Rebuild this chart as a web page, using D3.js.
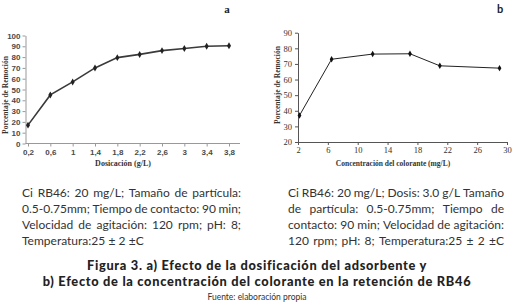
<!DOCTYPE html>
<html>
<head>
<meta charset="utf-8">
<script src="https://d3js.org/d3.v7.min.js"></script>
<style>
  body { margin: 0; background: #fff; }
  svg { display: block; }
</style>
</head>
<body>
<svg width="515" height="306"></svg>
<script>

// data
var doseLabels = ["0,2", "0,6", "1", "1,4", "1,8", "2,2", "2,6", "3", "3,4", "3,8"];
var doseRemoval = [17, 45, 57, 70, 79.5, 82.5, 86, 88, 90, 90.5];
var doseYTicks = [0, 10, 20, 30, 40, 50, 60, 70, 80, 90, 100];

var concValues = [2.2, 6.5, 12, 17, 21, 29];
var concRemoval = [37, 73, 76.3, 76.5, 68.8, 67.3];
var concXTicks = [2, 6, 10, 14, 18, 22, 26, 30];
var concYTicks = [20, 30, 40, 50, 60, 70, 80, 90];

var noteA = [
  "Ci RB46: 20 mg/L; Tamaño de partícula:",
  "0.5-0.75mm; Tiempo de contacto: 90 min;",
  "Velocidad de agitación: 120 rpm; pH: 8;",
  "Temperatura:25 ± 2 ±C"
];
var noteB = [
  "Ci RB46: 20 mg/L; Dosis: 3.0 g/L Tamaño",
  "de partícula: 0.5-0.75mm; Tiempo de",
  "contacto: 90 min; Velocidad de agitación:",
  "120 rpm; pH: 8; Temperatura:25 ± 2 ±C"
];
var caption = [
  "Figura 3. a) Efecto de la dosificación del adsorbente y",
  "b) Efecto de la concentración del colorante en la retención de RB46"
];
var source = "Fuente: elaboración propia";

var svg = d3.select("svg");

// ---------- chart a ----------
var xa = d3.scalePoint().domain(doseLabels).range([28, 229]);
var ya = d3.scaleLinear().domain([0, 100]).range([143.5, 35.5]);

var ga = svg.append("g");

var axA = ga.append("g")
    .attr("transform", "translate(0,143.5)")
    .call(d3.axisBottom(xa).tickSize(3).tickSizeOuter(0).tickPadding(3));
axA.select(".domain").attr("d", "M25.5,0H240");
axA.selectAll("line").attr("stroke", "#999");
axA.select(".domain").attr("stroke", "#999");
axA.selectAll("text")
    .attr("font-family", "Liberation Sans, Arial, sans-serif")
    .attr("font-weight", "bold")
    .attr("font-size", 8)
    .attr("fill", "#4a4a4a");

var ayA = ga.append("g")
    .attr("transform", "translate(25.5,0)")
    .call(d3.axisLeft(ya).tickValues(doseYTicks).tickSize(3).tickSizeOuter(0).tickPadding(2));
ayA.selectAll("line, .domain").attr("stroke", "#999");
ayA.selectAll("text")
    .attr("font-family", "Liberation Sans, Arial, sans-serif")
    .attr("font-weight", "bold")
    .attr("font-size", 8)
    .attr("fill", "#4a4a4a");

var lineA = d3.line()
    .x(function(d, i) { return xa(doseLabels[i]); })
    .y(function(d) { return ya(d); });

ga.append("path")
    .datum(doseRemoval)
    .attr("fill", "none")
    .attr("stroke", "#3a3a3a")
    .attr("stroke-width", 1.6)
    .attr("d", lineA);

ga.selectAll(".pa")
    .data(doseRemoval)
    .enter().append("path")
    .attr("class", "pa")
    .attr("transform", function(d, i) { return "translate(" + xa(doseLabels[i]) + "," + ya(d) + ")"; })
    .attr("d", d3.symbol().type(d3.symbolDiamond).size(14))
    .attr("fill", "#222");

ga.append("text")
    .attr("transform", "translate(8,95) rotate(-90)")
    .attr("text-anchor", "middle")
    .attr("font-family", "Liberation Serif, Times New Roman, serif")
    .attr("font-weight", "bold")
    .attr("font-size", 7.5)
    .attr("fill", "#333")
    .text("Porcentaje de Remoción");

ga.append("text")
    .attr("x", 123)
    .attr("y", 166)
    .attr("text-anchor", "middle")
    .attr("font-family", "Liberation Serif, Times New Roman, serif")
    .attr("font-weight", "bold")
    .attr("font-size", 8)
    .attr("fill", "#333")
    .text("Dosicación (g/L)");

ga.append("text")
    .attr("x", 227)
    .attr("y", 13)
    .attr("text-anchor", "middle")
    .attr("font-family", "Liberation Serif, Times New Roman, serif")
    .attr("font-weight", "bold")
    .attr("font-size", 11)
    .attr("fill", "#222")
    .text("a");

// ---------- chart b ----------
var xb = d3.scaleLinear().domain([2, 30]).range([298, 507]);
var yb = d3.scaleLinear().domain([20, 90]).range([142, 32.7]);

var gb = svg.append("g");

var axB = gb.append("g")
    .attr("transform", "translate(0,142)")
    .call(d3.axisBottom(xb).tickValues(concXTicks).tickSize(3).tickSizeOuter(0).tickPadding(2));
axB.selectAll("line, .domain").attr("stroke", "#555");
axB.selectAll("text")
    .attr("font-family", "Liberation Serif, Times New Roman, serif")
    .attr("font-size", 8.5)
    .attr("fill", "#333");

var ayB = gb.append("g")
    .attr("transform", "translate(298,0)")
    .call(d3.axisLeft(yb).tickValues(concYTicks).tickSize(3).tickSizeOuter(0).tickPadding(3));
ayB.selectAll("line, .domain").attr("stroke", "#555");
ayB.selectAll("text")
    .attr("font-family", "Liberation Serif, Times New Roman, serif")
    .attr("font-size", 8.5)
    .attr("fill", "#333");

var lineB = d3.line()
    .x(function(d, i) { return xb(concValues[i]); })
    .y(function(d) { return yb(d); });

gb.append("path")
    .datum(concRemoval)
    .attr("fill", "none")
    .attr("stroke", "#222")
    .attr("stroke-width", 1)
    .attr("d", lineB);

gb.selectAll(".pb")
    .data(concRemoval)
    .enter().append("path")
    .attr("class", "pb")
    .attr("transform", function(d, i) { return "translate(" + xb(concValues[i]) + "," + yb(d) + ")"; })
    .attr("d", d3.symbol().type(d3.symbolDiamond).size(12))
    .attr("fill", "#111");

gb.append("text")
    .attr("transform", "translate(280,85) rotate(-90)")
    .attr("text-anchor", "middle")
    .attr("font-family", "Liberation Serif, Times New Roman, serif")
    .attr("font-weight", "bold")
    .attr("font-size", 7.5)
    .attr("fill", "#333")
    .text("Porcentaje de Remoción");

gb.append("text")
    .attr("x", 393)
    .attr("y", 166)
    .attr("text-anchor", "middle")
    .attr("font-family", "Liberation Serif, Times New Roman, serif")
    .attr("font-weight", "bold")
    .attr("font-size", 7.5)
    .attr("fill", "#333")
    .text("Concentración del colorante (mg/L)");

gb.append("text")
    .attr("x", 500)
    .attr("y", 13)
    .attr("text-anchor", "middle")
    .attr("font-family", "Lato, sans-serif")
    .attr("font-weight", "bold")
    .attr("font-size", 11)
    .attr("fill", "#222")
    .text("b");

// ---------- notes (justified) ----------
function justifyLine(line, x0, x1, y, stretch) {
  var words = line.split(" ");
  var g = svg.append("g");
  var nodes = words.map(function(w) {
    return g.append("text")
        .attr("y", y)
        .attr("font-family", "Lato, sans-serif")
        .attr("font-size", 12)
        .attr("fill", "#333")
        .text(w);
  });
  var widths = nodes.map(function(n) { return n.node().getComputedTextLength(); });
  var total = d3.sum(widths);
  var gap = stretch && words.length > 1 ? (x1 - x0 - total) / (words.length - 1) : 3.2;
  var x = x0;
  nodes.forEach(function(n, i) {
    n.attr("x", x);
    x += widths[i] + gap;
  });
}

noteA.forEach(function(l, i) {
  justifyLine(l, 22, 241, 197 + i * 16, i < noteA.length - 1);
});
noteB.forEach(function(l, i) {
  justifyLine(l, 288, 504, 197 + i * 16, true);
});

svg.selectAll(".cap")
    .data(caption)
    .enter().append("text")
    .attr("class", "cap")
    .attr("x", 257)
    .attr("y", function(d, i) { return 270 + i * 16; })
    .attr("text-anchor", "middle")
    .attr("font-family", "Lato, sans-serif")
    .attr("font-weight", "900")
    .attr("font-size", 12.8)
    .attr("letter-spacing", 0.7)
    .attr("fill", "#222")
    .text(function(d) { return d; });

svg.append("text")
    .attr("x", 257)
    .attr("y", 300)
    .attr("text-anchor", "middle")
    .attr("font-family", "Lato, sans-serif")
    .attr("font-size", 8.5)
    .attr("fill", "#333")
    .text(source);

</script>
</body>
</html>
